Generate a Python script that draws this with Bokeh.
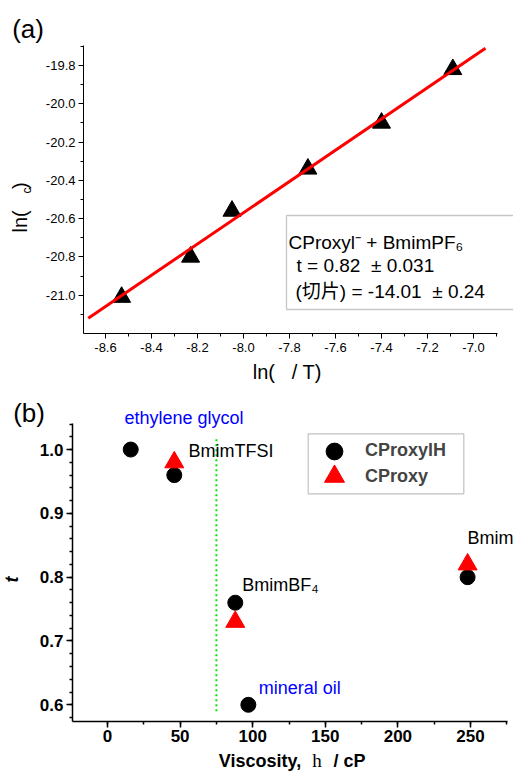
from bokeh.plotting import figure
from bokeh.layouts import column
from bokeh.models import (Range1d, SingleIntervalTicker, PrintfTickFormatter, Label,
                          BoxAnnotation, Legend, LegendItem)
from bokeh.embed import file_html
from bokeh.resources import INLINE
import math

# ---------------- data: panel (a) ----------------
ln_inv_T = [-8.53, -8.23, -8.05, -7.72, -7.40, -7.09]
ln_tau = [-21.01, -20.80, -20.56, -20.34, -20.10, -19.82]
fit_x = [-8.675, -6.948]
fit_y = [-21.12, -19.71]
fit_title = "CProxyl\u207b + BmimPF\u2086"
fit_slope_text = "t = 0.82\u00a0\u00a0\u00b1 0.031"
fit_icpt_text = "(\u5207\u7247) = -14.01\u00a0\u00a0\u00b1 0.24"

# ---------------- data: panel (b) ----------------
visc_h = [16, 46, 88, 97, 248]
t_h = [1.00, 0.96, 0.76, 0.60, 0.80]
visc_c = [46, 88, 248]
t_c = [0.98, 0.73, 0.82]
solvent_names = ["ethylene glycol", "BmimTFSI", "BmimBF\u2084", "mineral oil", "Bmim"]
viscosity_cut = 75
cut_span = [0.59, 1.02]

SANS = "Liberation Sans, 'Noto Sans CJK SC'"
W = 513
HA = 390
HB = 386


# pixel -> data helpers (page pixels; panel (a) canvas starts at y=0, panel (b) at y=390)
def xa(sx):
    return -8.6 + (sx - 105) / 230.0


def ya(sy):
    return -21.2 + (333 - sy) / 191.4


def xb(sx):
    return (sx - 107) / 1.452


def yb(sy):
    return 0.6 + (704.3 - sy) / 638.1


def shift(size):
    # Label text sits lower than the requested alphabetic baseline; compensate
    return 0.4 * size + 0.5


def style_axis(ax, size, bold, lw, tick_out, minor_out, standoff):
    ax.axis_line_color = "black"
    ax.axis_line_width = lw
    ax.major_tick_in = 0
    ax.major_tick_out = tick_out
    ax.minor_tick_in = 0
    ax.minor_tick_out = minor_out
    ax.major_tick_line_width = lw
    ax.minor_tick_line_width = lw
    ax.major_tick_line_color = "black"
    ax.minor_tick_line_color = "black"
    ax.major_label_text_font = "Liberation Sans"
    ax.major_label_text_font_size = size
    ax.major_label_text_font_style = "bold" if bold else "normal"
    ax.major_label_text_color = "black"
    ax.major_label_standoff = standoff


def lab(p, fx, fy, sx, sy, text, size, style="normal", color="black", rotated=False,
        font=SANS, align="left"):
    d = shift(size)
    if rotated:
        x, y, angle = fx(sx - d), fy(sy), math.pi / 2
    else:
        x, y, angle = fx(sx), fy(sy - d), 0.0
    p.add_layout(Label(x=x, y=y, text=text, text_font=font, text_font_size="%dpx" % size,
                       text_font_style=style, text_color=color, angle=angle,
                       text_align=align, text_baseline="alphabetic"))


# ================= panel (a) =================
pa = figure(width=W, height=HA, output_backend="svg", toolbar_location=None,
            x_range=Range1d(xa(0), xa(W)), y_range=Range1d(ya(HA), ya(0)),
            min_border_left=0, min_border_right=0, min_border_top=0, min_border_bottom=0)
pa.xgrid.grid_line_color = None
pa.ygrid.grid_line_color = None
pa.outline_line_color = None
pa.xaxis.ticker = SingleIntervalTicker(interval=0.2, num_minor_ticks=2)
pa.yaxis.ticker = SingleIntervalTicker(interval=0.2, num_minor_ticks=2)
pa.xaxis.formatter = PrintfTickFormatter(format="%.1f")
pa.yaxis.formatter = PrintfTickFormatter(format="%.1f")
pa.xaxis.fixed_location = ya(333)
pa.xaxis.bounds = (xa(83), xa(497))
pa.yaxis.fixed_location = xa(83)
pa.yaxis.bounds = (ya(333), ya(45))
style_axis(pa.xaxis[0], "13px", False, 1, 5, 3, 4)
style_axis(pa.yaxis[0], "13px", False, 1, 5, 3, 3)

pa.scatter(ln_inv_T, ln_tau, marker="triangle", size=18, fill_color="black", line_color="black")
pa.line(fit_x, fit_y, line_color="red", line_width=3)

pa.add_layout(BoxAnnotation(left=xa(286), right=xa(545), top=ya(215), bottom=ya(309),
                            fill_color=None, fill_alpha=0, line_color="#444444", line_width=1.3))
lab(pa, xa, ya, 288, 250, fit_title, 19)
lab(pa, xa, ya, 296, 273.3, fit_slope_text, 19)
lab(pa, xa, ya, 295, 299.3, fit_icpt_text, 19)

lab(pa, xa, ya, 11.7, 39.5, "(a)", 26)
# y axis title: ln( c)
lab(pa, xa, ya, 28, 232, "ln(", 20, rotated=True)
lab(pa, xa, ya, 32, 193, "c", 12, rotated=True)
lab(pa, xa, ya, 28, 188.5, ")", 20, rotated=True)
# x axis title
lab(pa, xa, ya, 252.3, 380, "ln(\u00a0\u00a0\u00a0/ T)", 20)

# ================= panel (b) =================
pb = figure(width=W, height=HB, output_backend="svg", toolbar_location=None,
            x_range=Range1d(xb(0), xb(W)), y_range=Range1d(yb(390 + HB), yb(390)),
            min_border_left=0, min_border_right=0, min_border_top=0, min_border_bottom=0)
pb.xgrid.grid_line_color = None
pb.ygrid.grid_line_color = None
pb.outline_line_color = None
pb.xaxis.ticker = SingleIntervalTicker(interval=50, num_minor_ticks=2)
pb.yaxis.ticker = SingleIntervalTicker(interval=0.1, num_minor_ticks=5)
pb.yaxis.formatter = PrintfTickFormatter(format="%.1f")
pb.xaxis.fixed_location = yb(721)
pb.xaxis.bounds = (xb(72), xb(507))
pb.yaxis.fixed_location = xb(72)
pb.yaxis.bounds = (yb(721), yb(423))
style_axis(pb.xaxis[0], "17px", True, 1.5, 6, 3, 2)
style_axis(pb.yaxis[0], "17px", True, 1.5, 6, 3, 3)

pb.line([viscosity_cut, viscosity_cut], cut_span, line_color="#00e600", line_width=2, line_dash="2 3")
rc = pb.scatter(visc_h, t_h, marker="circle", size=15, fill_color="black", line_color="black")
rt = pb.scatter(visc_c, t_c, marker="triangle", size=19, fill_color="red", line_color="red")

# legend frame, then one legend per entry (so the rows can sit close together)
pb.add_layout(BoxAnnotation(left=xb(307.7), right=xb(463.3), top=yb(433.3), bottom=yb(493.3),
                            fill_color="white", fill_alpha=1, line_color="#333333", line_width=1.2))
leg_common = dict(glyph_width=52, padding=0, spacing=0, label_standoff=5, label_width=98,
                  label_height=20, label_text_font="Liberation Sans",
                  label_text_font_style="bold", label_text_font_size="18px",
                  border_line_color=None, background_fill_alpha=0, margin=0)
pb.add_layout(Legend(items=[LegendItem(label="CProxylH", renderers=[rc])],
                     location=(308, 390 + HB - (450.7 + 21)), glyph_height=42, **leg_common))
pb.add_layout(Legend(items=[LegendItem(label="CProxy", renderers=[rt])],
                     location=(308, 390 + HB - (476 + 25)), glyph_height=50, **leg_common))

lab(pb, xb, yb, 124, 425, solvent_names[0], 18, color="#0000ff")
lab(pb, xb, yb, 188, 458, solvent_names[1], 18)
lab(pb, xb, yb, 241.7, 591.7, solvent_names[2], 18)
lab(pb, xb, yb, 258.3, 695, solvent_names[3], 18, color="#0000ff")
lab(pb, xb, yb, 467, 545, solvent_names[4], 18)

lab(pb, xb, yb, 12.7, 423.5, "(b)", 26)
lab(pb, xb, yb, 19, 579, "t", 18, style="bold italic", rotated=True, align="center")
lab(pb, xb, yb, 218.3, 768, "Viscosity,", 18, style="bold")
lab(pb, xb, yb, 311.7, 768, "h", 19, font="Liberation Serif")
lab(pb, xb, yb, 333, 768, "/ cP", 18, style="bold")

layout = column(pa, pb, spacing=0)
open("out.html", "w").write(file_html(layout, INLINE))
